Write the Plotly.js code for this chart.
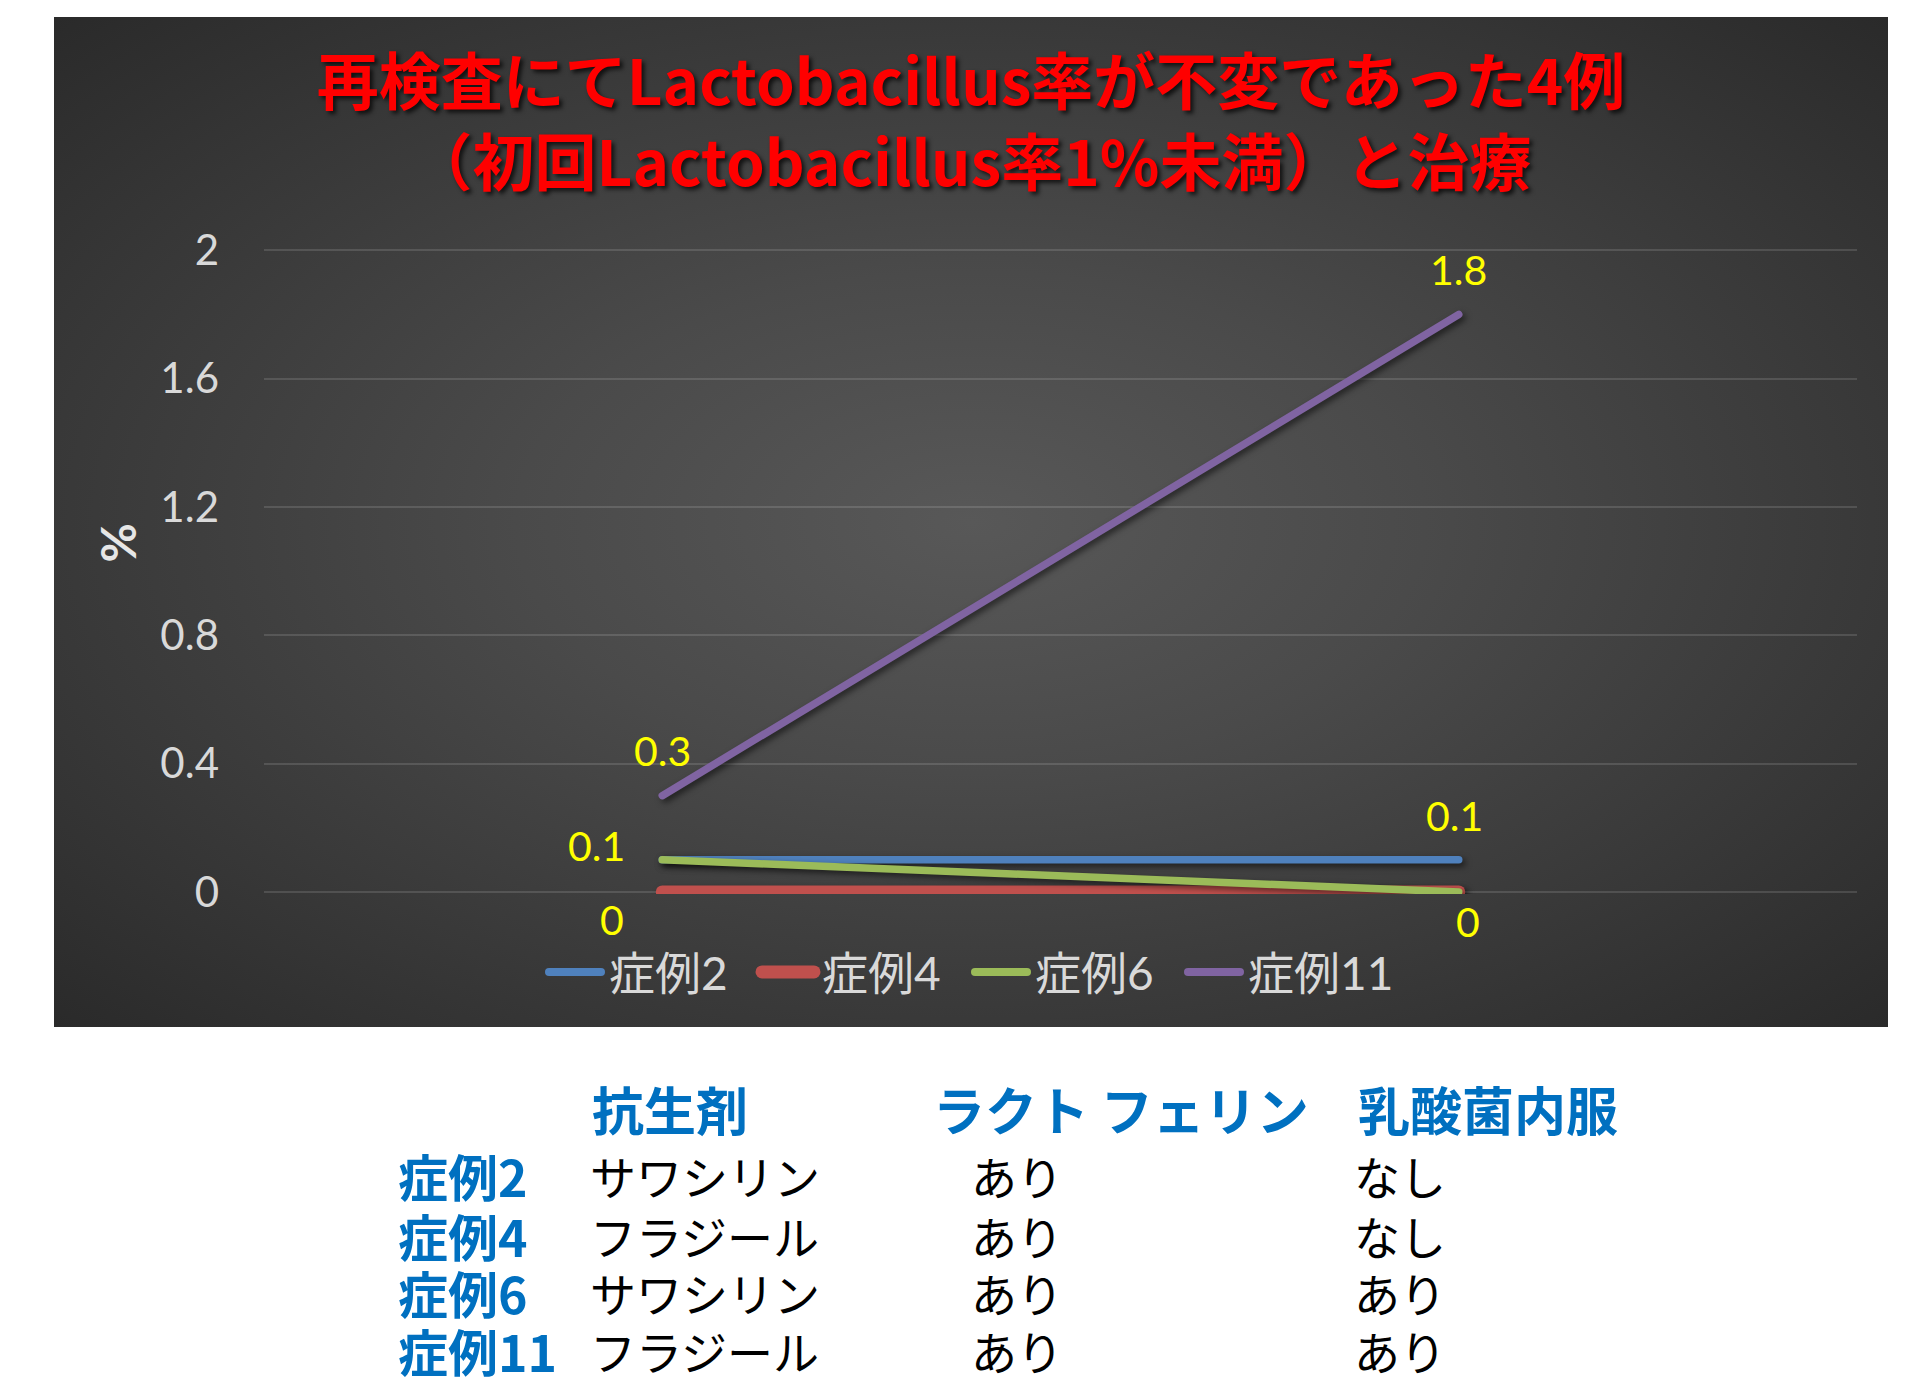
<!DOCTYPE html>
<html>
<head>
<meta charset="utf-8">
<script src="https://cdn.plot.ly/plotly-3.0.1.min.js"></script>
<style>
  html, body { margin: 0; padding: 0; background: #ffffff; width: 1909px; height: 1386px; overflow: hidden; }
  #chart {
    position: absolute; left: 54px; top: 17px; width: 1834px; height: 1010px;
    background: radial-gradient(ellipse farthest-corner at 50% 50%, #585858 0%, #4a4a4a 35%, #2a2a2a 100%);
  }
  #chart .scatterlayer path.js-line {
    stroke-linecap: round;
    filter: drop-shadow(3px 3px 3px rgba(0,0,0,0.55));
  }
  #chart .legendlines path { stroke-linecap: round; }
  .cell { position: absolute; white-space: nowrap; line-height: 1; font-family: "Noto Sans CJK JP", sans-serif; }
  .hdr { color: #0070C0; font-weight: bold; font-size: 52px; }
  .rowlab { color: #0070C0; font-weight: bold; font-size: 50px; }
  .val { color: #000000; font-size: 46px; }
</style>
</head>
<body>
<div id="chart"></div>
<div id="table"></div>
<script>
// ---- data ----
const categories = ["初回", "再検査"];
const seriesNames = ["症例2", "症例4", "症例6", "症例11"];
const case2 = [0.1, 0.1];
const case4 = [0, 0];
const case6 = [0.1, 0];
const case11 = [0.3, 1.8];
const yTicks = [0, 0.4, 0.8, 1.2, 1.6, 2];

const tableHeaders = ["抗生剤", "ラクト フェリン", "乳酸菌内服"];
const tableRowLabels = ["症例2", "症例4", "症例6", "症例11"];
const antibiotic = ["サワシリン", "フラジール", "サワシリン", "フラジール"];
const lactoferrin = ["あり", "あり", "あり", "あり"];
const probiotic = ["なし", "なし", "あり", "あり"];

// ---- styles ----
const seriesValues = [case2, case4, case6, case11];
const colors = ["#4F81BD", "#C0504D", "#9BBB59", "#8064A2"];
const widths = [7.5, 13, 7.5, 7.5];
const legendWidths = [8, 13, 8, 8];
// which points carry a data label, and where (pixel offsets from the point)
const labelPlacement = [
  [{dx: -66, dy: 14}, {dx: -4, dy: 44}],
  [{dx: -50, dy: -28}, null],
  [null, {dx: 9, dy: -30}],
  [{dx: 0, dy: 45}, {dx: 0, dy: 45}]
];

const xIdx = categories.map((c, i) => i);
const traces = seriesValues.map((vals, s) => ({
  type: "scatter",
  mode: "lines",
  name: seriesNames[s],
  x: xIdx,
  y: vals,
  line: {color: colors[s], width: widths[s]},
  hoverinfo: "skip"
}));

const numFont = "Lato, 'Noto Sans CJK JP'";
const annotations = [];
seriesValues.forEach((vals, s) => {
  vals.forEach((v, i) => {
    const p = labelPlacement[s][i];
    if (!p) return;
    annotations.push({
      xref: "x", yref: "y", x: xIdx[i], y: v, text: String(v),
      showarrow: false, xshift: p.dx, yshift: p.dy,
      xanchor: "center", yanchor: "middle",
      font: {family: numFont, size: 41, color: "#FFFF00"}
    });
  });
});
annotations.push({
  xref: "paper", yref: "paper", x: -0.0917, y: 0.545, text: "%",
  textangle: -90, showarrow: false, xanchor: "center", yanchor: "middle",
  font: {family: numFont, size: 48, color: "#e6e6e6", weight: "bold"}
});

const ITEMW = 54;
const layout = {
  width: 1834, height: 1010,
  paper_bgcolor: "rgba(0,0,0,0)", plot_bgcolor: "rgba(0,0,0,0)",
  margin: {l: 210, r: 31, t: 232, b: 133},
  title: {
    text: "再検査にてLactobacillus率が不変であった4例<br>（初回Lactobacillus率1%未満）と治療",
    x: 0.5, xref: "container", xanchor: "center",
    y: 0.9124, yref: "container", yanchor: "middle",
    font: {family: "'Noto Sans CJK JP'", size: 62, color: "#FF0000", weight: "bold",
           shadow: "3px 3px 4px rgba(0,0,0,0.7)"}
  },
  xaxis: {range: [-0.5, 1.5], showticklabels: false, showgrid: false, zeroline: false, showline: false, ticks: ""},
  yaxis: {
    range: [-0.0065, 2.004], tickvals: yTicks, ticktext: yTicks.map(String),
    showgrid: true, gridcolor: "rgba(255,255,255,0.13)", gridwidth: 2,
    zeroline: true, zerolinecolor: "rgba(255,255,255,0.13)", zerolinewidth: 2,
    showline: false, ticks: "", ticklabelstandoff: 44,
    tickfont: {family: numFont, size: 42, color: "#d9d9d9"}
  },
  showlegend: true,
  legend: {
    orientation: "h", xref: "container", x: 0.5, xanchor: "center",
    yref: "container", y: 1 - 955/1010, yanchor: "middle",
    itemwidth: ITEMW,
    entrywidth: 144, entrywidthmode: "pixels",
    font: {family: numFont, size: 46, color: "#d9d9d9"},
    bgcolor: "rgba(0,0,0,0)"
  },
  annotations: annotations
};

Plotly.newPlot("chart", traces, layout, {displayModeBar: false, staticPlot: true}).then(() => {
  // lengthen legend line samples to fill the item symbol width, as in the reference
  document.querySelectorAll("#chart .legend .traces").forEach((g, i) => {
    const p = g.querySelector(".legendlines path");
    if (p) {
      p.setAttribute("d", "M4,0h" + (ITEMW - 2));
      p.style.strokeWidth = legendWidths[i] + "px";
    }
  });
});

// ---- table below the chart ----
const tbl = document.getElementById("table");
function cell(text, cls, left, centerY) {
  const d = document.createElement("div");
  d.className = "cell " + cls;
  d.textContent = text;
  d.style.left = left + "px";
  tbl.appendChild(d);
  const h = d.getBoundingClientRect().height;
  d.style.top = (centerY - h / 2) + "px";
}
const colLeft = [592, 933, 1358];
const valLeft = [590, 971, 1354];
const rowY = [1175, 1235, 1292, 1350];
tableHeaders.forEach((h, j) => cell(h, "hdr", colLeft[j], 1109));
tableRowLabels.forEach((r, i) => {
  cell(r, "rowlab", 398, rowY[i]);
  cell(antibiotic[i], "val", valLeft[0], rowY[i]);
  cell(lactoferrin[i], "val", valLeft[1], rowY[i]);
  cell(probiotic[i], "val", valLeft[2], rowY[i]);
});
</script>
</body>
</html>
